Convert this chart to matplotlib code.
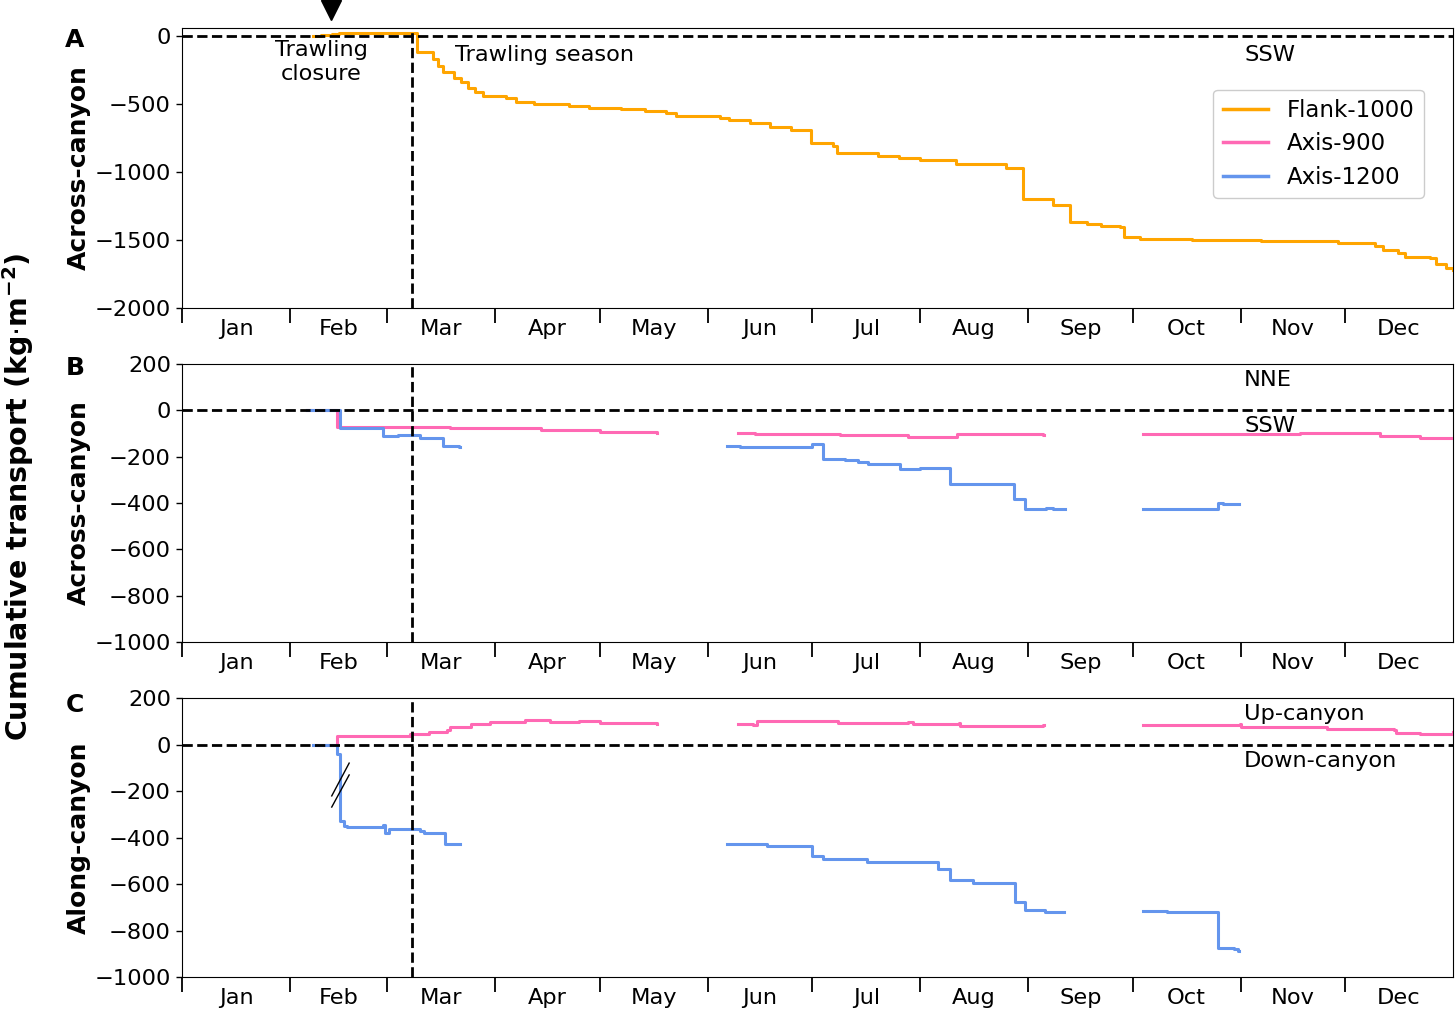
import numpy as np
import matplotlib
matplotlib.use("Agg")
import matplotlib.pyplot as plt
from matplotlib.lines import Line2D

plt.rcParams['font.family'] = ['DejaVu Sans']

nan = np.nan

# ---- data (day of year, cumulative transport kg m-2) ----
month_starts = [0, 31, 59, 90, 120, 151, 181, 212, 243, 273, 304, 334, 365]
month_labels = ['Jan', 'Feb', 'Mar', 'Apr', 'May', 'Jun', 'Jul', 'Aug', 'Sep', 'Oct', 'Nov', 'Dec']
closure_end_day = 66
marker_day = 42.8

flank_days = [37.6, 40, 43, 45, 67.5, 72, 73.5, 75, 78, 80, 82, 84, 86.5, 93, 96, 101, 111, 117,
              126, 133, 139, 142, 154.5, 157, 163, 169, 175, 180.5, 187, 188, 200, 206, 212,
              222.4, 236.6, 241.6, 250.2, 255, 260, 264, 269.4, 270.5, 275, 290, 310, 332,
              342.6, 345, 349.3, 351.2, 358.4, 360, 363, 365]
flank_across = [0, 8, 15, 24, -115, -170, -220, -262, -309, -340, -382, -410, -439, -456, -483,
                -500, -512, -527, -535, -549, -569, -588, -600, -618, -642, -667, -691, -789,
                -809, -863, -882, -900, -912, -941, -968, -1201, -1243, -1365, -1380, -1395,
                -1407, -1476, -1493, -1500, -1505, -1524, -1544, -1574, -1598, -1623, -1635,
                -1680, -1708, -1720]

ax900_across_days = [36, 44.6, 50, 77, 103, 120, 136.4, 136.5,
                     159.6, 164.6, 189, 208.5, 222.6, 247.4, 247.5,
                     276, 304, 321, 344, 355.5, 365]
ax900_across = [0, -71, -72, -78, -85, -92, -99, nan,
                -99, -101, -107, -117, -102, -107, nan,
                -104, -102, -97, -110, -118, -118]

ax1200_across_days = [36, 45.4, 57.8, 62, 68.4, 75, 79.6, 79.7,
                      156.6, 160.3, 181, 184, 190.4, 194, 197, 206.2, 212, 220.6, 239, 242,
                      248, 250, 253.4, 253.5,
                      276, 297.5, 299, 303.4, 303.5]
ax1200_across = [0, -78, -113, -108, -118, -154, -157, nan,
                 -154, -160, -147, -210, -214, -222, -232, -255, -250, -320, -383, -426,
                 -423, -427, -427, nan,
                 -427, -401, -405, -405, nan]

ax900_along_days = [37.6, 44.6, 65.5, 71, 76, 77, 83, 88.5, 98.5, 105.7, 114, 120, 128.7, 136.4, 136.5,
                    159.6, 164, 165, 184, 188.4, 208.5, 210, 223, 223.5, 247.4, 247.5,
                    276, 303.8, 304.2, 328.7, 348, 348.5, 355.5, 365]
ax900_along = [0, 38, 44, 55, 62, 77, 88, 95, 105, 98, 100, 94, 91, 88, nan,
               88, 83, 102, 102, 91, 97, 87, 91, 81, 84, nan,
               84, 88, 74, 65, 62, 51, 45, 55]

ax1200_along_days = [37.6, 44.6, 45.5, 46.5, 47.5, 57.7, 58.2, 59.5, 68.4, 69.5, 75.5, 79.6, 79.7,
                     156.6, 168, 181, 184.2, 196.6, 217, 220.6, 227.3, 232, 239.2, 242, 247.8,
                     253.3, 253.4,
                     276, 283, 297.4, 302, 303.4, 303.5]
ax1200_along = [0, -40, -330, -350, -355, -346, -379, -365, -371, -379, -429, -428, nan,
                -428, -435, -478, -492, -504, -537, -583, -597, -594, -676, -712, -719,
                -719, nan,
                -716, -722, -877, -881, -887, nan]

C_FLANK = '#FFA500'
C_900 = '#FF69B4'
C_1200 = '#6495ED'

fig = plt.figure(figsize=(14.55, 10.11), dpi=100)
L, W = 0.1251, 0.8735
axA = fig.add_axes([L, 0.6954, W, 0.2770])
axB = fig.add_axes([L, 0.3650, W, 0.2750])
axC = fig.add_axes([L, 0.0336, W, 0.2760])

FS = 16.2
LW = 2.2
mids = [(month_starts[i] + month_starts[i + 1]) / 2 for i in range(12)]

for ax in (axA, axB, axC):
    ax.set_xlim(0, 365)
    ax.set_xticks(month_starts[:-1])
    ax.set_xticklabels([])
    ax.set_xticks(mids, minor=True)
    ax.set_xticklabels(month_labels, minor=True, fontsize=FS)
    ax.tick_params(axis='x', which='major', length=11, width=1.3, direction='out')
    ax.tick_params(axis='x', which='minor', length=0, pad=8)
    ax.tick_params(axis='y', labelsize=FS, length=4.5, width=1.0)
    ax.axhline(0, color='black', ls='--', lw=2, zorder=4)
    ax.axvline(closure_end_day, color='black', ls='--', lw=2, zorder=4)

# Panel A
axA.plot(flank_days, flank_across, color=C_FLANK, lw=LW, drawstyle='steps-post', zorder=3)
axA.set_ylim(-2000, 59)
axA.set_yticks([-2000, -1500, -1000, -500, 0])
axA.plot([marker_day], [191], marker='v', color='black', ms=15, clip_on=False, zorder=5)
axA.text(40, -191, 'Trawling\nclosure', ha='center', va='center', fontsize=FS, linespacing=1.2)
axA.text(78.4, -140, 'Trawling season', ha='left', va='center', fontsize=FS)
axA.text(305, -140, 'SSW', ha='left', va='center', fontsize=FS)

# Panel B
axB.plot(ax900_across_days, ax900_across, color=C_900, lw=LW, drawstyle='steps-post', zorder=3)
axB.plot(ax1200_across_days, ax1200_across, color=C_1200, lw=LW, drawstyle='steps-post', zorder=3)
axB.set_ylim(-1000, 200)
axB.set_yticks(np.arange(-1000, 201, 200))
axB.text(305, 131, 'NNE', ha='left', va='center', fontsize=FS)
axB.text(305, -68, 'SSW', ha='left', va='center', fontsize=FS)

# Panel C
axC.plot(ax900_along_days, ax900_along, color=C_900, lw=LW, drawstyle='steps-post', zorder=3)
axC.plot(ax1200_along_days, ax1200_along, color=C_1200, lw=LW, drawstyle='steps-post', zorder=3)
axC.set_ylim(-1000, 200)
axC.set_yticks(np.arange(-1000, 201, 200))
axC.text(305, 131, 'Up-canyon', ha='left', va='center', fontsize=FS)
axC.text(305, -71, 'Down-canyon', ha='left', va='center', fontsize=FS)
# axis-break marks
axC.plot([43, 48], [-221, -80], color='black', lw=1, zorder=5)
axC.plot([43, 48], [-269, -131], color='black', lw=1, zorder=5)

# Legend
hA = Line2D([], [], color=C_FLANK, lw=2.5)
h9 = Line2D([], [], color=C_900, lw=2.5)
h12 = Line2D([], [], color=C_1200, lw=2.5)
axA.legend([hA, h9, h12], ['Flank-1000', 'Axis-900', 'Axis-1200'], loc='upper right',
           bbox_to_anchor=(0.977, 0.779), borderaxespad=0, fontsize=16.5, framealpha=1,
           edgecolor='#cccccc', labelspacing=0.45)

# Y labels
for ax, lab in ((axA, 'Across-canyon'), (axB, 'Across-canyon'), (axC, 'Along-canyon')):
    ax.set_ylabel(lab, fontsize=18, fontweight='bold')
    ax.yaxis.set_label_coords(-0.072, 0.5)

for lab, y in (('A', 40), ('B', 368), ('C', 705)):
    fig.text(75 / 1455, 1 - y / 1011, lab, ha='center', va='center', fontsize=18, fontweight='bold')

fig.text(18 / 1455, 1 - 497 / 1011, 'Cumulative transport (kg$\\cdot$m$^{\\mathbf{-2}}$)',
         rotation=90, ha='center', va='center', fontsize=20.5, fontweight='bold')

fig.savefig('out.png', dpi=100)
